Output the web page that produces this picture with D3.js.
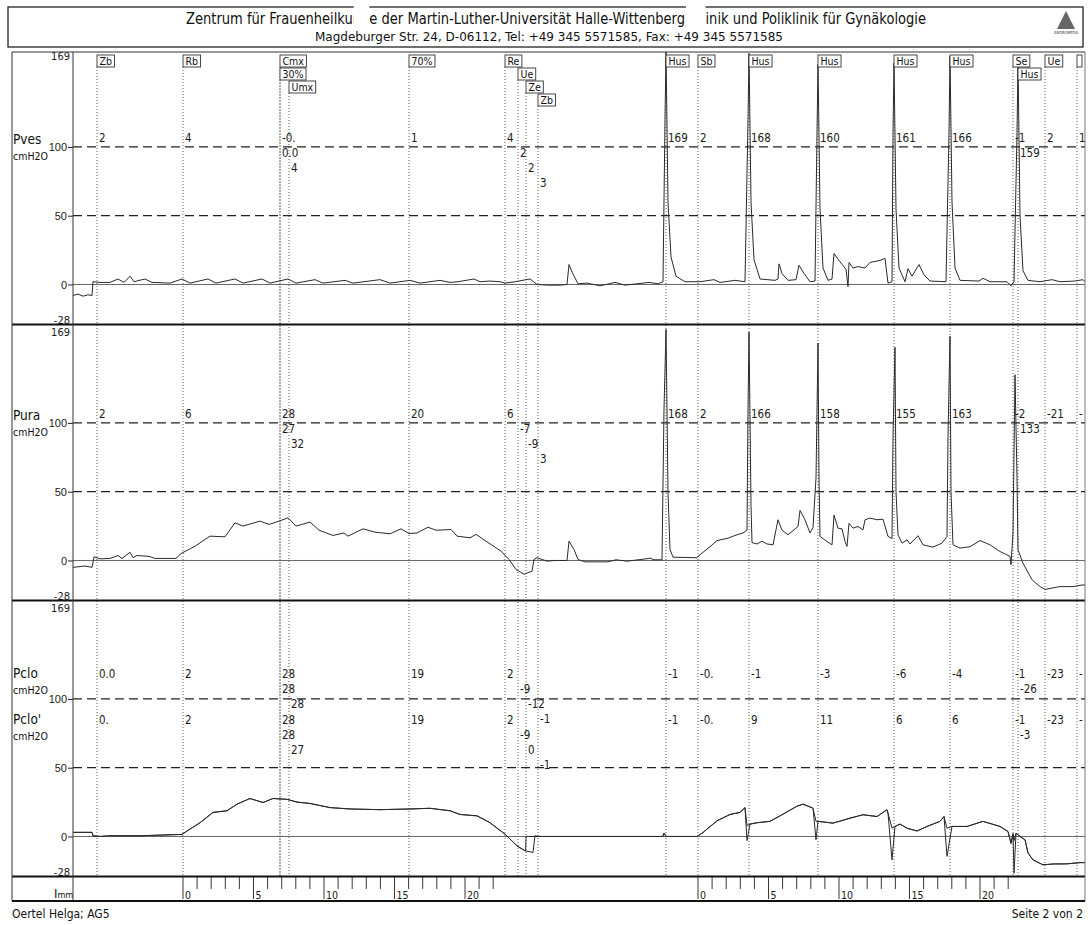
<!DOCTYPE html>
<html>
<head>
<meta charset="utf-8">
<script src="https://cdn.jsdelivr.net/npm/d3@7"></script>
<style>
  body { margin: 0; background: #fff; }
  svg { display: block; font-family: "Liberation Sans Narrow", "DejaVu Sans Condensed", "Arial Narrow", sans-serif; }
</style>
</head>
<body>
<script>
'use strict';

// --- event markers (time in s) ---
const eventNames = ['Zb','Rb','Cmx','30%','Umx','70%','Re','Ue','Ze','Zb','Hus','Sb','Hus','Hus','Hus','Hus','Se','Hus','Ue',''];
const eventTimes = [12, 55, 103.5, 103.5, 108, 168, 216, 222.5, 226.5, 232.5, 296.5, 312.5, 338, 372.5, 410.5, 438.5, 470, 472.5, 486, 502];
const eventRows  = [0, 0, 0, 1, 2, 0, 0, 1, 2, 3, 0, 0, 0, 0, 0, 0, 0, 1, 0, 0];

// values printed at each event
const pvesVals  = ['2','4','-0.','0.0','4','1','4','2','2','3','169','2','168','160','161','166','-1','159','2','1'];
const puraVals  = ['2','6','28','27','32','20','6','-7','-9','3','168','2','166','158','155','163','-2','133','-21','-'];
const pcloVals  = ['0.0','2','28','28','28','19','2','-9','-12','-1','-1','-0.','-1','-3','-6','-4','-1','-26','-23','-'];
const pcloPVals = ['0.','2','28','28','27','19','2','-9','0','-1','-1','-0.','9','11','6','6','-1','-3','-23','-'];

// --- axis ---
const yTicks = [100, 50, 0];
const yMin = -28, yMax = 169;

// --- withdrawal rulers (mm) ---
const rulerStarts = [55, 312.5];
const rulerMm = d3.range(0, 23);
const secPerMm = 7.05;

// --- traces [t (s), cmH2O] ---
const pvesTrace = [
  [0,-8],[2.5,-7],[5,-8.5],[7.5,-7.5],[9.5,-8],[10,2],[13.5,1.5],[18.5,1.5],[22.5,4],[25.5,1.5],
  [28.5,6],[30.5,2],[36,4],[39.5,1.5],[48.5,1],[54.5,4],[58.5,1],[67.5,4],[71.5,1],[81,4],[85,1],
  [94.5,4],[98.5,1],[107.5,4],[111.5,1],[121,3.5],[125,1],[136,3],[140,1],[153.5,3.5],[158.5,1],
  [168.5,3],[173.5,1],[183.5,3],[188.5,1.5],[192.5,2],[200.5,4],[203.5,2],[208.5,2.5],[213.5,2],
  [216,1],[221,2],[228.5,4],[232,0],[237.5,-0.5],[243.5,-0.5],[247,0],[248,14.5],[249.5,9],
  [252.5,0.5],[257,1],[263.5,-1],[271,1.5],[276,-0.5],[288,1.5],[292.5,0.5],[295,2],[296,120],
  [296.5,169],[297.5,60],[299,20],[301.5,6],[306,2],[313.5,2],[320.5,3.5],[323.5,1.5],[331,3],
  [336,2],[337.5,120],[338,168],[339,60],[340.5,18],[343.5,4],[351,3],[352.5,4],[353,15],[354.5,8],
  [357.5,3],[361.5,3.5],[363,14],[365.5,8],[368.5,2],[371,2.5],[372,110],[372.5,160],[373.5,55],
  [375,12],[377.5,3],[379.5,4],[380.5,22.5],[383.5,16.5],[386.5,11],[387.5,-1.5],[388,16],[390,12],
  [392.5,13],[396,12],[398.5,16],[403.5,17.5],[406,19],[407.5,1],[409.5,2],[410,110],[410.5,161],
  [411.5,55],[413,12],[416,2],[417.5,11.5],[419.5,6],[423,14.5],[425.5,7],[428.5,2.5],[436.5,2],
  [438,110],[438.5,166],[439.5,60],[441,12],[443.5,3],[453,2.5],[455,4.5],[458.5,2],[467,2],
  [469,-1],[470.5,2],[472,110],[472.5,162],[473.5,50],[475,10],[477.5,3],[483.5,2],[489.5,3.5],
  [493.5,2],[501,2.5],[505,3.5],[506,2]
];
const puraTrace = [
  [0,-5],[6,-4],[9.5,-5],[10.5,2.7],[13.5,1.2],[18.5,1.5],[22.5,3.6],[24.5,1.5],[28.5,6],[30,2],
  [32,3.6],[38,3],[41,1.5],[51.5,1.5],[54,5],[61,10.4],[68.5,17.7],[76,17.2],[81,27.4],[85,25],
  [93.5,28.6],[98,26.2],[103,28.6],[107.5,31],[111.5,25],[118.5,27.9],[123,22],[130,18.2],[135.5,20],
  [137.5,17.7],[145,23],[151,20.6],[158.5,19.4],[164,23],[168,19.6],[172,20],[177.5,24.2],[181.5,22],
  [189,22.5],[192,17.7],[198.5,16.5],[201.5,19],[206.5,14],[214,6.8],[218,0.7],[221.5,-6.5],
  [225.5,-10],[229.5,-7.8],[230.5,0.7],[232,2],[237,-0.5],[241,0],[247,0],[248,14],[250.5,8],
  [252.5,0.7],[256,-1],[267.5,-1],[271.5,0.5],[277,-0.5],[286.5,1.2],[288.5,1.7],[290.5,0.5],
  [294.5,0.5],[295.5,110],[296.5,168],[297.5,50],[298.5,8],[300,2.4],[312,2],[312.5,3],[318.5,10],
  [322,14.5],[327,16],[332,18.7],[335,20],[337,22],[337.5,110],[338,166],[339,40],[339.5,13],
  [342,12],[344.5,14],[347,12],[350,11.4],[352.5,29.6],[354.5,22],[357.5,18.7],[362.5,24.7],
  [363.5,36.4],[366,29.6],[368.5,20],[370,24],[371.5,60],[372.5,158],[373,60],[373.5,17.5],
  [377,13.8],[379.5,11.4],[380.5,33],[382.5,23.5],[384.5,23],[386,13.8],[387,10.2],[388,27],
  [390,23.5],[392.5,24.7],[395,22.3],[396,29.6],[398.5,30.8],[402,29.6],[405,30],[407.5,17.5],
  [409.5,16],[410,90],[411,155],[411.5,50],[412.5,18.7],[414.5,12.6],[417,15],[418.5,12],[422.5,18],
  [425,11.4],[430,9.7],[434.5,12.6],[437,17.5],[437.5,90],[438.5,163],[439,50],[440,11.4],
  [443.5,9],[448.5,10],[453.5,14.5],[458.5,11.4],[463.5,6.5],[468.5,3],[469,-3],[470,20],[471,135],
  [472,60],[472.5,7.8],[475,-2],[479.5,-14],[483.5,-19],[486,-21],[493.5,-19],[500,-19],
  [505,-17.7],[506,-18]
];
const pcloTrace = [
  [0,3],[9.5,3],[10,0.5],[13.5,0],[18.5,0.5],[33.5,0.5],[54.5,1.5],[57,4],[63.5,10],[70,17.5],
  [77,18.7],[82,23.5],[88.5,27.6],[95,24.7],[100,27.6],[107,27],[112,25],[118.5,24],[128.5,21],
  [138.5,20],[153.5,19.5],[168.5,20],[178.5,20.5],[188.5,18.7],[193.5,16],[202,15],[208.5,10],
  [216,1.7],[222,-6.8],[226,-10.4],[230,-11.6],[231,0.5],[233.5,0],[295,0],[295.5,2.5],[296.5,0],
  [312,0],[315,2.9],[322,11.4],[328.5,16],[333.5,17.5],[336,21],[337,-3],[338.5,9],[342,10],
  [348.5,11],[353.5,15],[362,22],[365,23.5],[370,20.6],[371.5,-2.4],[372.5,11],[380,9.7],
  [388.5,13.3],[395,15.8],[402,14.5],[407,19.4],[407.5,17],[409.5,-17],[411,7.3],[413.5,9],
  [417,6],[422,4],[427,7.3],[433.5,11],[435.5,14.5],[437,-14.5],[439.5,7.3],[447,7.3],[455,11],
  [463.5,7.3],[467.5,3.6],[469,-5],[470,2],[470.5,-26.7],[471.5,2.4],[473.5,0],[476,-2.4],
  [477.5,-12],[480,-17],[485,-20.6],[490,-20],[497,-19.9],[503.5,-19],[506,-19]
];
// Pclo' follows Pclo except inside these windows
const pcloPrimeEdits = [
  [226.2, 231.5, [[226.3,-10.5],[226.5,0],[230.5,0]]],
  [336.5, 338.5, [[337,8]]],
  [371, 372.5, [[371.5,11]]],
  [409, 411, [[409.5,6]]],
  [436.5, 439.5, [[437,6]]],
  [470.2, 471.5, [[470.5,-3]]]
];

// ------------------------------------------------------------
const W = 1088, H = 925;
const L = 12, R = 1085, axisX = 73, frameTop = 52, frameBottom = 901;

const svg = d3.select('body').append('svg')
  .attr('width', W).attr('height', H)
  .attr('viewBox', [0, 0, W, H]);

svg.append('rect').attr('width', W).attr('height', H).attr('fill', '#fff');

svg.append('clipPath').attr('id', 'frame-clip')
  .append('rect').attr('x', axisX).attr('y', frameTop).attr('width', R - axisX).attr('height', frameBottom - frameTop);

const x = d3.scaleLinear().domain([0, 506]).range([axisX, R]);

const panels = [
  { bottom: 323, labels: [['Pves', 'cmH2O', 144]], traces: [pvesTrace], series: [[pvesVals, -142.5]] },
  { bottom: 599, labels: [['Pura', 'cmH2O', 420]], traces: [puraTrace], series: [[puraVals, -142.5]] },
  { bottom: 875, labels: [['Pclo', 'cmH2O', 678], ["Pclo'", 'cmH2O', 724]], traces: [pcloTrace], series: [[pcloVals, -158.5], [pcloPVals, -112.5]] }
];

// Pclo' built from Pclo with edits
const pcloPrime = pcloTrace
  .filter(p => !pcloPrimeEdits.some(e => p[0] > e[0] && p[0] < e[1]))
  .concat(pcloPrimeEdits.flatMap(e => e[2]))
  .sort((a, b) => a[0] - b[0]);
panels[2].traces.push(pcloPrime);

const rowH = 13, boxTop = 55, boxH = 12;
const plot = svg.append('g').attr('clip-path', 'url(#frame-clip)');

// event dotted lines
plot.append('g').selectAll('line')
  .data(eventTimes)
  .join('line')
    .attr('x1', d => x(d)).attr('x2', d => x(d))
    .attr('y1', (d, i) => boxTop + eventRows[i] * rowH + boxH)
    .attr('y2', 876)
    .attr('stroke', '#333').attr('stroke-width', 0.8)
    .attr('stroke-dasharray', '1,2');

panels.forEach(p => {
  const y = d3.scaleLinear().domain([yMin, yMax]).range([p.bottom, p.bottom - 271]).clamp(true);
  const g = plot.append('g');

  g.selectAll('.grid')
    .data([100, 50])
    .join('line')
      .attr('x1', axisX).attr('x2', R)
      .attr('y1', d => y(d)).attr('y2', d => y(d))
      .attr('stroke', '#222').attr('stroke-width', 1.2)
      .attr('stroke-dasharray', '9,5');

  g.append('line')
    .attr('x1', axisX).attr('x2', R)
    .attr('y1', y(0)).attr('y2', y(0))
    .attr('stroke', '#666').attr('stroke-width', 1);

  const line = d3.line().x(d => x(d[0])).y(d => y(d[1]));
  p.traces.forEach(tr => {
    g.append('path')
      .attr('d', line(tr))
      .attr('fill', 'none')
      .attr('stroke', '#2a2a2a').attr('stroke-width', 1)
      .attr('stroke-linejoin', 'round');
  });

  // printed values at events
  p.series.forEach(([vals, off]) => {
    g.append('g').selectAll('text')
      .data(vals)
      .join('text')
        .attr('x', (d, i) => x(eventTimes[i]) + 2)
        .attr('y', (d, i) => y(0) + off + eventRows[i] * 15)
        .attr('font-size', 11.5)
        .attr('fill', '#1a1a1a')
        .text(d => d);
  });

  // axis
  const ax = svg.append('g')
    .attr('transform', `translate(${axisX},0)`)
    .call(d3.axisLeft(y).tickValues(yTicks).tickSize(5).tickPadding(1).tickFormat(d3.format('d')));
  ax.select('.domain').remove();
  ax.selectAll('text').attr('font-size', 11).attr('font-family', null).attr('fill', '#1a1a1a');
  ax.selectAll('line').attr('stroke', '#222');

  svg.append('text')
    .attr('x', axisX - 3).attr('y', y(yMax) + 8)
    .attr('text-anchor', 'end').attr('font-size', 11).attr('fill', '#1a1a1a')
    .text(yMax);
  svg.append('text')
    .attr('x', axisX - 3).attr('y', y(yMin) + 1)
    .attr('text-anchor', 'end').attr('font-size', 11).attr('fill', '#1a1a1a')
    .text(yMin);

  p.labels.forEach(([name, unit, base]) => {
    svg.append('text').attr('x', L + 1).attr('y', base)
      .attr('font-size', 13.5).attr('fill', '#111').text(name);
    svg.append('text').attr('x', L + 1).attr('y', base + 16)
      .attr('font-size', 10.5).attr('fill', '#111').text(unit);
  });

  // separator under the panel
  svg.append('line')
    .attr('x1', L).attr('x2', R)
    .attr('y1', p.bottom + 1.5).attr('y2', p.bottom + 1.5)
    .attr('stroke', '#111').attr('stroke-width', 2);
});

// event boxes
const boxes = plot.append('g').selectAll('g')
  .data(eventNames)
  .join('g')
    .attr('transform', (d, i) => `translate(${x(eventTimes[i])},${boxTop + eventRows[i] * rowH})`);
boxes.append('text')
  .attr('x', 2.5).attr('y', 9.5)
  .attr('font-size', 10.5).attr('fill', '#111')
  .text(d => d);
boxes.insert('rect', 'text')
  .attr('width', function () { return this.parentNode.querySelector('text').getComputedTextLength() + 5 || 14; })
  .attr('height', boxH)
  .attr('fill', '#fff').attr('stroke', '#333').attr('stroke-width', 0.9);

// rulers
rulerStarts.forEach(t0 => {
  const g = svg.append('g');
  g.selectAll('line')
    .data(rulerMm)
    .join('line')
      .attr('x1', d => x(t0 + d * secPerMm)).attr('x2', d => x(t0 + d * secPerMm))
      .attr('y1', 877)
      .attr('y2', d => d % 5 === 0 ? 899 : 889)
      .attr('stroke', '#222').attr('stroke-width', 0.9);
  g.selectAll('text')
    .data(rulerMm.filter(d => d % 5 === 0))
    .join('text')
      .attr('x', d => x(t0 + d * secPerMm) + 2)
      .attr('y', 899)
      .attr('font-size', 10.5).attr('fill', '#1a1a1a')
      .text(d => d);
});
const mm = svg.append('text').attr('x', 54).attr('y', 898).attr('fill', '#111');
mm.append('tspan').attr('font-size', 13).text('I');
mm.append('tspan').attr('font-size', 9).text('mm');

// frame
svg.append('line').attr('x1', axisX).attr('x2', axisX).attr('y1', frameTop).attr('y2', frameBottom)
  .attr('stroke', '#333').attr('stroke-width', 1);
svg.append('line').attr('x1', L).attr('x2', R).attr('y1', frameTop).attr('y2', frameTop)
  .attr('stroke', '#333').attr('stroke-width', 1);
svg.append('line').attr('x1', L).attr('x2', L).attr('y1', frameTop).attr('y2', frameBottom)
  .attr('stroke', '#333').attr('stroke-width', 1);
svg.append('line').attr('x1', R).attr('x2', R).attr('y1', frameTop).attr('y2', frameBottom)
  .attr('stroke', '#555').attr('stroke-width', 0.8);
svg.append('line').attr('x1', L).attr('x2', R).attr('y1', frameBottom).attr('y2', frameBottom)
  .attr('stroke', '#111').attr('stroke-width', 2);

// header
svg.append('rect').attr('x', 8).attr('y', 7).attr('width', 1075).attr('height', 40)
  .attr('fill', 'none').attr('stroke', '#111').attr('stroke-width', 1.2);
const title = 'Zentrum für Frauenheilkunde der Martin-Luther-Universität Halle-Wittenberg, Klinik und Poliklinik für Gynäkologie';
const titleText = svg.append('text').attr('x', 186).attr('y', 24)
  .attr('font-size', 15.5).attr('fill', '#111')
  .attr('textLength', 740).attr('lengthAdjust', 'spacingAndGlyphs')
  .text(title);
svg.append('text').attr('x', 315).attr('y', 41)
  .attr('font-size', 12.5).attr('fill', '#111')
  .attr('textLength', 468).attr('lengthAdjust', 'spacingAndGlyphs')
  .text('Magdeburger Str. 24, D-06112, Tel: +49 345 5571585, Fax: +49 345 5571585');

// scan gaps over "nd" and ", Kl", plus the top border
const tnode = titleText.node();
[[title.indexOf('Frauenheilkunde') + 12, 2], [title.indexOf('Wittenberg,') + 10, 4]].forEach(([ci, n]) => {
  const a = tnode.getExtentOfChar(ci), b = tnode.getExtentOfChar(ci + n - 1);
  svg.append('rect').attr('x', a.x + 1).attr('y', 0).attr('width', b.x + b.width - a.x - 1).attr('height', 29).attr('fill', '#fff');
});

// logo
svg.append('path').attr('d', 'M1066,11 L1057,29 L1075,29 Z').attr('fill', '#666');
svg.append('text').attr('x', 1066).attr('y', 34).attr('text-anchor', 'middle')
  .attr('font-size', 4).attr('fill', '#333').text('ANDROMEDA');

// footer
svg.append('text').attr('x', 12).attr('y', 918).attr('font-size', 12).attr('fill', '#111').text('Oertel Helga; AG5');
svg.append('text').attr('x', 1083).attr('y', 918).attr('text-anchor', 'end').attr('font-size', 12).attr('fill', '#111').text('Seite 2 von 2');
</script>
</body>
</html>
